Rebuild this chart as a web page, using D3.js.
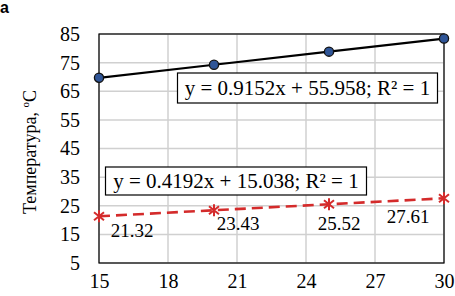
<!DOCTYPE html>
<html>
<head>
<meta charset="utf-8">
<script src="https://cdn.jsdelivr.net/npm/d3@7"></script>
<style>
  body { margin: 0; background: #fff; }
  svg { display: block; }
</style>
</head>
<body>
<svg width="455" height="296"></svg>
<script>
// data
const xValues = [15, 20, 25, 30];
const upperSeries = [69.69, 74.26, 78.84, 83.41];
const lowerSeries = [21.32, 23.43, 25.52, 27.61];
const xTicks = [15, 18, 21, 24, 27, 30];
const yTicks = [5, 15, 25, 35, 45, 55, 65, 75, 85];
const upperEquation = "y = 0.9152x + 55.958; R² = 1";
const lowerEquation = "y = 0.4192x + 15.038; R² = 1";

const serif = "'Liberation Serif', 'Times New Roman', serif";

const svg = d3.select("svg");
const margin = { top: 34, right: 11, bottom: 33, left: 99 };
const width = 455 - margin.left - margin.right;
const height = 296 - margin.top - margin.bottom;
const g = svg.append("g").attr("transform", `translate(${margin.left},${margin.top})`);

const x = d3.scaleLinear().domain([15, 30]).range([0, width]);
const y = d3.scaleLinear().domain([5, 85]).range([height, 0]);

// grid
g.append("g").selectAll("line").data(yTicks).join("line")
    .attr("x1", 0).attr("x2", width)
    .attr("y1", d => y(d)).attr("y2", d => y(d))
    .attr("stroke", "#d0d0d0").attr("stroke-width", 1.5);
g.append("g").selectAll("line").data(xTicks).join("line")
    .attr("y1", 0).attr("y2", height)
    .attr("x1", d => x(d)).attr("x2", d => x(d))
    .attr("stroke", "#d0d0d0").attr("stroke-width", 1.5);

// frame
g.append("rect").attr("width", width).attr("height", height)
    .attr("fill", "none").attr("stroke", "#000").attr("stroke-width", 1.2);

// axes (labels only)
const yAxis = g.append("g").call(d3.axisLeft(y).tickValues(yTicks).tickSize(0).tickPadding(19));
const xAxis = g.append("g").attr("transform", `translate(0,${height})`)
    .call(d3.axisBottom(x).tickValues(xTicks).tickSize(0).tickPadding(11));
[xAxis, yAxis].forEach(a => {
    a.select(".domain").remove();
    a.attr("font-family", null).attr("font-size", null);
    a.selectAll("text").style("font-family", serif).style("font-size", "20px").attr("fill", "#000");
});

// y title
const title = svg.append("text")
    .attr("transform", "translate(36,152) rotate(-90)")
    .attr("text-anchor", "middle")
    .style("font-family", serif).style("font-size", "18px");
title.append("tspan").text("Температура, ");
title.append("tspan").style("font-size", "11px").attr("dy", -7).text("o");
title.append("tspan").attr("dy", 7).text("C");

// panel letter
svg.append("text").attr("x", 0).attr("y", 13)
    .style("font-family", "'Liberation Sans', Arial, sans-serif")
    .style("font-weight", "bold").style("font-size", "16px").text("a");

const upper = xValues.map((d, i) => ({ x: d, y: upperSeries[i] }));
const lower = xValues.map((d, i) => ({ x: d, y: lowerSeries[i] }));
const line = d3.line().x(d => x(d.x)).y(d => y(d.y));

// upper series
g.append("path").datum(upper).attr("d", line)
    .attr("fill", "none").attr("stroke", "#000").attr("stroke-width", 2.2);
g.selectAll("circle.up").data(upper).join("circle")
    .attr("cx", d => x(d.x)).attr("cy", d => y(d.y)).attr("r", 4.6)
    .attr("fill", "#2f5597").attr("stroke", "#111").attr("stroke-width", 1.3);

// lower series
g.append("path").datum(lower).attr("d", line)
    .attr("fill", "none").attr("stroke", "#d42b2b").attr("stroke-width", 2.6)
    .attr("stroke-dasharray", "11,6");
const stars = g.selectAll("g.star").data(lower).join("g")
    .attr("transform", d => `translate(${x(d.x)},${y(d.y)})`);
stars.append("path")
    .attr("d", "M-5,-4L5,4M-5,4L5,-4M0,-6L0,6")
    .attr("stroke", "#d42b2b").attr("stroke-width", 2);

// data labels (offsets from point, in px)
const labelOffsets = [[33, 14], [24, 13], [10, 19], [-36, 18]];
g.selectAll("text.lbl").data(lower).join("text")
    .attr("x", (d, i) => x(d.x) + labelOffsets[i][0])
    .attr("y", (d, i) => y(d.y) + labelOffsets[i][1])
    .attr("dy", "0.35em")
    .attr("text-anchor", "middle")
    .style("font-family", serif).style("font-size", "19px")
    .text(d => d.y.toFixed(2));

// equation boxes
function eqBox(text, cx, cy, w, h) {
    g.append("rect").attr("x", cx - w / 2).attr("y", cy - h / 2)
        .attr("width", w).attr("height", h)
        .attr("fill", "#fff").attr("stroke", "#000").attr("stroke-width", 1.2);
    g.append("text").attr("x", cx).attr("y", cy).attr("dy", "0.35em")
        .attr("text-anchor", "middle")
        .style("font-family", serif).style("font-size", "21px").text(text);
}
eqBox(upperEquation, 208.5, 54, 260, 30);
eqBox(lowerEquation, 137, 147, 261, 28);
</script>
</body>
</html>
